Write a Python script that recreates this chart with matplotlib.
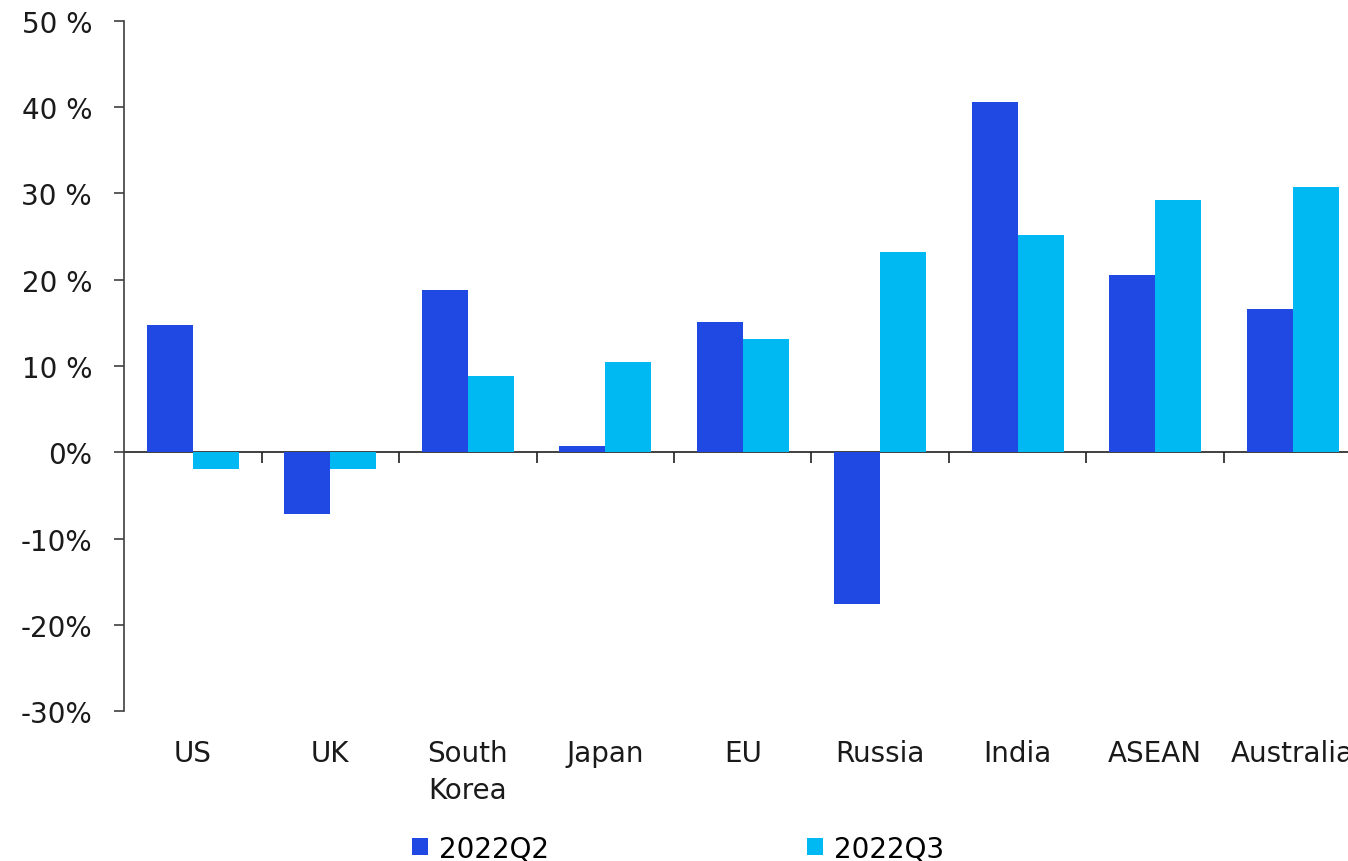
import numpy as np
import matplotlib.pyplot as plt

regions = ['US', 'UK', 'South\nKorea', 'Japan', 'EU', 'Russia', 'India', 'ASEAN', 'Australia']
q2 = [14.8, -7.2, 18.8, 0.7, 15.1, -17.6, 40.6, 20.5, 16.6]
q3 = [-1.9, -1.9, 8.8, 10.5, 13.1, 23.2, 25.2, 29.2, 30.7]
series_names = ['2022Q2', '2022Q3']
yticks = [-30, -20, -10, 0, 10, 20, 30, 40, 50]
ytick_labels = ['-30%', '-20%', '-10%', '0%', '10 %', '20 %', '30 %', '40 %', '50 %']

plt.rcParams['font.family'] = ['DejaVu Sans']
plt.rcParams['font.size'] = 20

fig = plt.figure(figsize=(13.48, 8.62), dpi=100)
ax = fig.add_axes([0.092, 0.174, 0.918, 0.8005])

x = np.arange(len(regions))
w = 0.335
b1 = ax.bar(x - w / 2, q2, w, color='#1f49e2', label=series_names[0])
b2 = ax.bar(x + w / 2, q3, w, color='#00b9f2', label=series_names[1])

ax.set_xlim(-0.5, len(regions) - 0.5)
ax.set_ylim(-30, 50)
ax.set_yticks(yticks)
ax.set_yticklabels(ytick_labels)
ax.tick_params(axis='y', direction='out', length=7, width=1.2, pad=16,
               color='#404040', labelcolor='#1a1a1a')

ax.set_xticks(x)
ax.set_xticklabels(regions)
ax.tick_params(axis='x', length=0, pad=20, labelcolor='#1a1a1a')
for lbl in ax.get_xticklabels():
    lbl.set_linespacing(1.4)

for s in ['top', 'right', 'bottom']:
    ax.spines[s].set_visible(False)
ax.spines['left'].set_color('#404040')
ax.spines['left'].set_linewidth(1.2)

# zero line with category separator ticks
zero = (0 - ax.get_ylim()[0]) / (ax.get_ylim()[1] - ax.get_ylim()[0])
sec = ax.secondary_xaxis(zero)
sec.set_xticks(x[:-1] + 0.5)
sec.set_xticklabels([])
sec.tick_params(direction='out', length=8, width=1.2, color='#202020')
sec.spines['bottom'].set_color('#202020')
sec.spines['bottom'].set_linewidth(1.2)

fig.legend(handles=[b1, b2], loc='lower center', bbox_to_anchor=(0.503, -0.031),
           ncol=2, frameon=False, handlelength=0.57, handleheight=0.57,
           handletextpad=0.4, columnspacing=9.3)

fig.savefig('out.png', dpi=100)
